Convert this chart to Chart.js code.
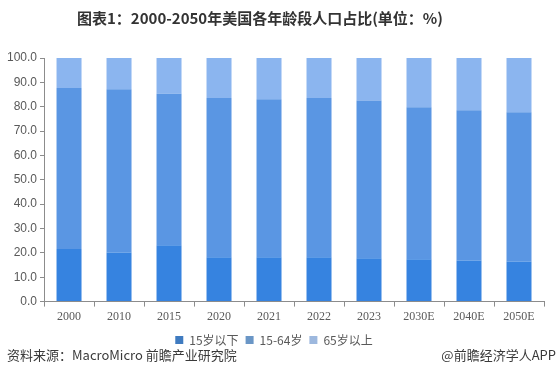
<!DOCTYPE html>
<html>
<head>
<meta charset="utf-8">
<script src="https://cdn.jsdelivr.net/npm/chart.js@4/dist/chart.umd.min.js"></script>
<style>
  html, body { margin: 0; padding: 0; background: #fff; }
  #wrap { position: relative; width: 560px; height: 391px; }
  .title { position: absolute; top: 7px; left: 0; width: 520px; text-align: center;
           font: bold 15px "Noto Sans CJK SC", sans-serif; color: #333; }
  .foot { position: absolute; top: 345px; font: 13px "Noto Sans CJK SC", sans-serif; color: #3a3a3a; }
</style>
</head>
<body>
<div id="wrap">
  <canvas id="stat" width="560" height="391"></canvas>
  <div class="title">图表1：2000-2050年美国各年龄段人口占比(单位：%)</div>
  <div class="foot" style="left:7px">资料来源：MacroMicro 前瞻产业研究院</div>
  <div class="foot" style="right:4px">@前瞻经济学人APP</div>
</div>
<script>
const years = ["2000", "2010", "2015", "2020", "2021", "2022", "2023", "2030E", "2040E", "2050E"];
const seriesNames = ["15岁以下", "15-64岁", "65岁以上"];
const under15 = [21.6, 20.2, 23.1, 18.2, 18.2, 18.2, 17.8, 17.4, 16.9, 16.5];
const age15to64 = [66.1, 67.0, 62.2, 65.4, 64.9, 65.4, 64.8, 62.4, 61.6, 61.2];
const over65 = [12.3, 12.8, 14.7, 16.4, 16.9, 16.4, 17.4, 20.2, 21.5, 22.3];
const barColors = ["#3683e0", "#5a96e3", "#8bb5ef"];
const legendColors = ["#3f7bc0", "#6a96c6", "#9db8de"];

Chart.defaults.font.family = '"Liberation Serif", serif';

new Chart(document.getElementById("stat"), {
  type: "bar",
  data: {
    labels: years,
    datasets: [under15, age15to64, over65].map((vals, i) => ({
      label: seriesNames[i],
      data: vals,
      backgroundColor: barColors[i],
      barPercentage: 0.5,
      categoryPercentage: 1,
    })),
  },
  options: {
    responsive: false,
    animation: false,
    layout: { padding: { left: 4, right: 16, top: 58, bottom: 35 } },
    plugins: {
      legend: {
        position: "bottom",
        labels: {
          boxWidth: 8,
          boxHeight: 8,
          color: "#595959",
          font: { family: '"Noto Sans CJK SC", "Liberation Serif", serif', size: 12 },
          padding: 7,
          generateLabels: (chart) =>
            chart.data.datasets.map((ds, i) => ({
              text: ds.label,
              fillStyle: legendColors[i],
              strokeStyle: legendColors[i],
              lineWidth: 0,
              fontColor: "#595959",
              datasetIndex: i,
            })),
        },
      },
      tooltip: { enabled: false },
    },
    scales: {
      x: {
        stacked: true,
        grid: { display: true, drawOnChartArea: false, drawTicks: true, tickLength: 5, color: "#8c8c8c" },
        border: { color: "#8c8c8c" },
        ticks: { color: "#595959", font: { size: 12 }, padding: 3 },
      },
      y: {
        stacked: true,
        min: 0,
        max: 100,
        grid: { display: true, drawOnChartArea: false, drawTicks: true, tickLength: 4, color: "#8c8c8c" },
        border: { color: "#8c8c8c" },
        ticks: {
          stepSize: 10,
          color: "#595959",
          font: { family: '"Liberation Sans", sans-serif', size: 12 },
          padding: 3,
          callback: (v) => v.toFixed(1),
        },
      },
    },
  },
});
</script>
</body>
</html>
